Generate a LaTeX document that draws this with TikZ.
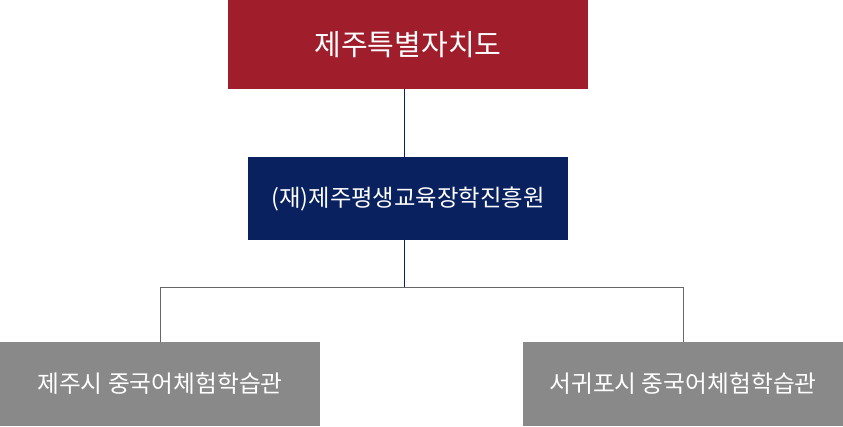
\documentclass[tikz,border=0pt]{standalone}
\usepackage{fontspec}
\newfontfamily\krfont{Noto Sans CJK KR}
\definecolor{jejured}{HTML}{A01E2B}
\definecolor{jejunavy}{HTML}{0A2160}
\definecolor{centergray}{HTML}{898989}
\definecolor{linegray}{HTML}{666666}
\tikzset{
  orgbox/.style={inner sep=0pt, text=white, font=\krfont},
  topbox/.style={orgbox, fill=jejured, minimum width=360*0.75pt, minimum height=89*0.75pt, font=\krfont\fontsize{21.8}{22}\selectfont},
  midbox/.style={orgbox, fill=jejunavy, minimum width=320*0.75pt, minimum height=83*0.75pt, font=\krfont\fontsize{17.5}{18}\selectfont},
  lowbox/.style={orgbox, fill=centergray, minimum width=320*0.75pt, minimum height=84*0.75pt, font=\krfont\fontsize{17.8}{18}\selectfont}
}
\begin{document}
\begin{tikzpicture}[x=0.75pt,y=-0.75pt]
  \useasboundingbox (0,0) rectangle (843,426);
  \node [topbox] (province) at (408,44.5) {제주특별자치도};
  \node [midbox] (foundation) at (408,198.5) {(재)제주평생교육장학진흥원};
  \node [lowbox] (jejucity) at (160,384) {제주시 중국어체험학습관};
  \node [lowbox] (seogwipo) at (683,384) {서귀포시 중국어체험학습관};
  \coordinate (split) at (404,287);
  \draw [jejunavy, line width=0.75pt] (province.south -| split) -- (foundation.north -| split);
  \draw [jejunavy, line width=0.75pt] (foundation.south -| split) -- (split);
  \draw [linegray, line width=0.75pt] (split) -| (jejucity.north);
  \draw [linegray, line width=0.75pt] (split) -| (seogwipo.north);
\end{tikzpicture}
\end{document}
